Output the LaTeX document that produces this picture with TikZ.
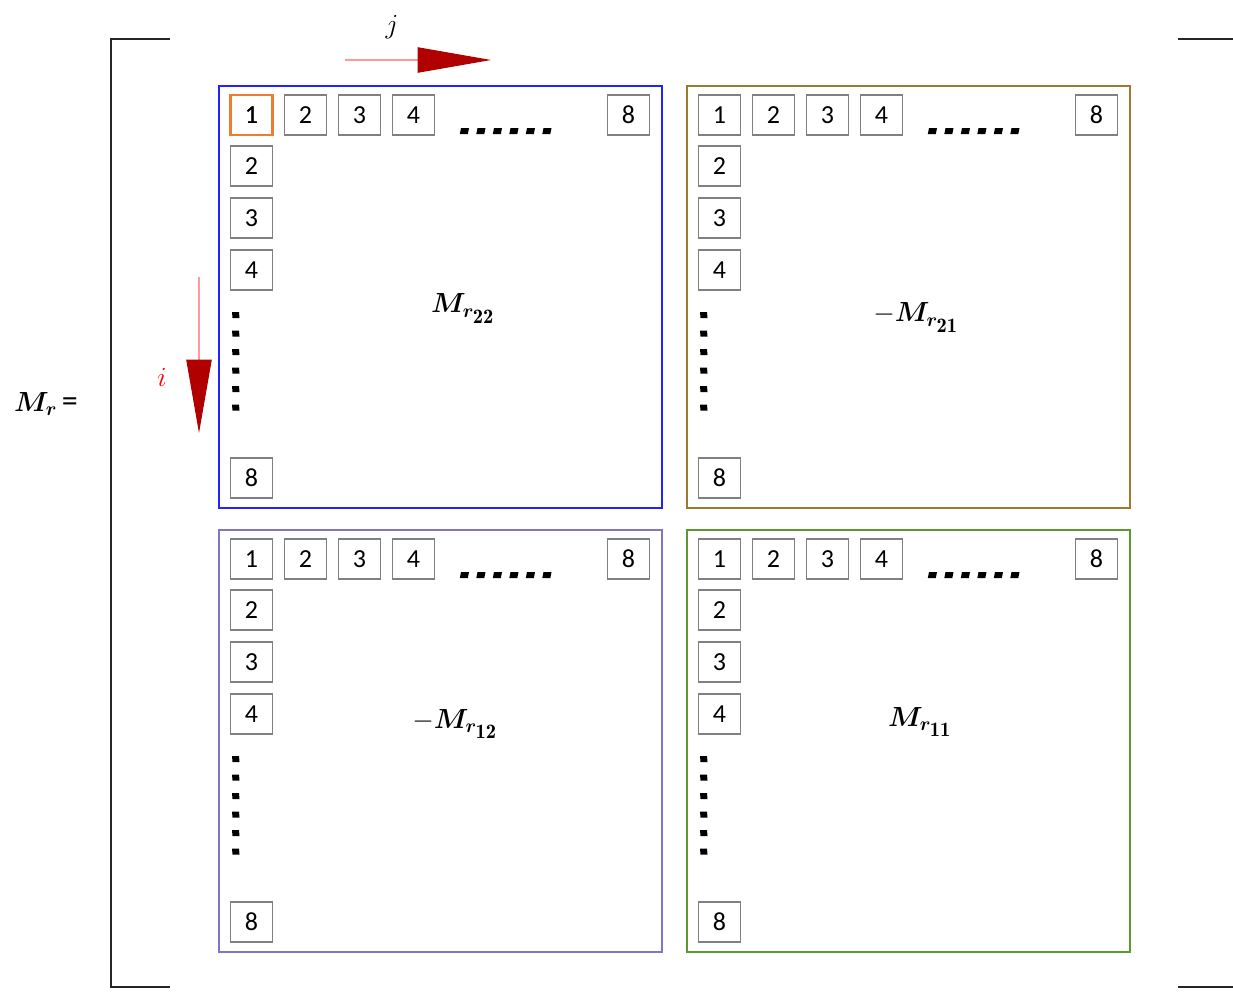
\documentclass[tikz,border=0pt]{standalone}
\usepackage{amsmath,amssymb,bm}
\usepackage{xcolor}
\usepackage{fontspec}
\newfontfamily\cellfont{Carlito}
\usepackage{tikz}
\usetikzlibrary{arrows.meta}

\definecolor{blockblue}{HTML}{2323FF}
\definecolor{blockbrown}{HTML}{9C7A2E}
\definecolor{blockpurple}{HTML}{8274C8}
\definecolor{blockgreen}{HTML}{5C9A30}
\definecolor{cellorange}{HTML}{ED7D31}
\definecolor{arrowred}{HTML}{B00000}
\definecolor{arrowpink}{HTML}{FF9A9A}

\tikzset{
  block/.style={draw=#1, line width=1.4pt, inner sep=0pt,
    minimum width=332pt, minimum height=316.5pt, anchor=north west},
  cell/.style={draw=gray, line width=0.8pt, inner sep=0pt,
    minimum width=32pt, minimum height=30pt,
    font=\cellfont\fontsize{19.5}{19.5}\selectfont},
  bracket/.style={line width=1.4pt, draw=black!85},
  bigarrow/.style={draw=arrowpink, line width=0.8pt,
    -{Triangle[length=55pt,width=19pt,color=arrowred,fill=arrowred]}},
  blocklabel/.style={font=\fontsize{22}{22}\selectfont}
}
\newcommand{\blk}[2]{\boldsymbol{M}_{\scriptstyle\boldsymbol{r}_{\scriptstyle\mathbf{#1#2}}}}

\begin{document}
\begin{tikzpicture}[x=0.75pt, y=-0.75pt]
  \useasboundingbox (0,0) rectangle (1233,993);
  % Brackets
  \draw[bracket] (170,39) -- (111,39) -- (111,987) -- (170,987);
  \draw[bracket] (1178,39) -- (1233,39);
  \draw[bracket] (1178,987) -- (1233,987);
  % Label of the matrix
  \node (Mr) at (46,404) {\fontsize{21}{21}\selectfont$\boldsymbol{M}_{\scriptstyle\boldsymbol{r}}$\,\cellfont\fontsize{24}{24}\selectfont =};
  % Four blocks with their index cells
  \foreach \bx/\by/\col/\nm in {218/85/blockblue/A, 686/85/blockbrown/B,
                                218/529/blockpurple/C, 686/529/blockgreen/D}{
    \node[block=\col] (\nm) at (\bx,\by) {};
    % first row
    \foreach \cx/\t in {12/1, 66/2, 120/3, 174/4, 389/8}
      \node[cell] (\nm-r\t) at (\bx+\cx+21.5,\by+30) {\t};
    % first column
    \foreach \cy/\t in {61/2, 113/3, 165/4, 373/8}
      \node[cell] (\nm-c\t) at (\bx+33.5,\by+\cy+20) {\t};
    % dots
    \foreach \k in {0,...,5}{
      \fill (\bx+243+\k*16.5,\by+43) -- ++(8,0) -- ++(-1.2,6) -- ++(-8,0) -- cycle;
      \fill (\bx+14,\by+227+\k*18.5) -- ++(7,0) -- ++(0.5,6) -- ++(-7,0) -- cycle;
    }
  }
  % Selected element
  \node[cell, draw=cellorange, line width=2.2pt] (A-sel) at (A-r1) {1};
  % Block names
  \node[blocklabel] (LA) at (463,309) {$\blk22$};
  \node[blocklabel] (LB) at (916,318) {$-\blk21$};
  \node[blocklabel] (LC) at (455,724) {$-\blk12$};
  \node[blocklabel] (LD) at (920,722) {$\blk11$};
  % Index directions
  \coordinate (jstart) at (345,60);
  \coordinate (jend) at (491,60);
  \draw[bigarrow] (jstart) -- (jend);
  \node (jlab) at (392,27) {\fontsize{20}{20}\selectfont$j$};
  \coordinate (istart) at (199,277);
  \coordinate (iend) at (199,433);
  \draw[bigarrow] (istart) -- (iend);
  \node[text=red] (ilab) at (162,377) {\fontsize{20}{20}\selectfont$i$};
\end{tikzpicture}
\end{document}
